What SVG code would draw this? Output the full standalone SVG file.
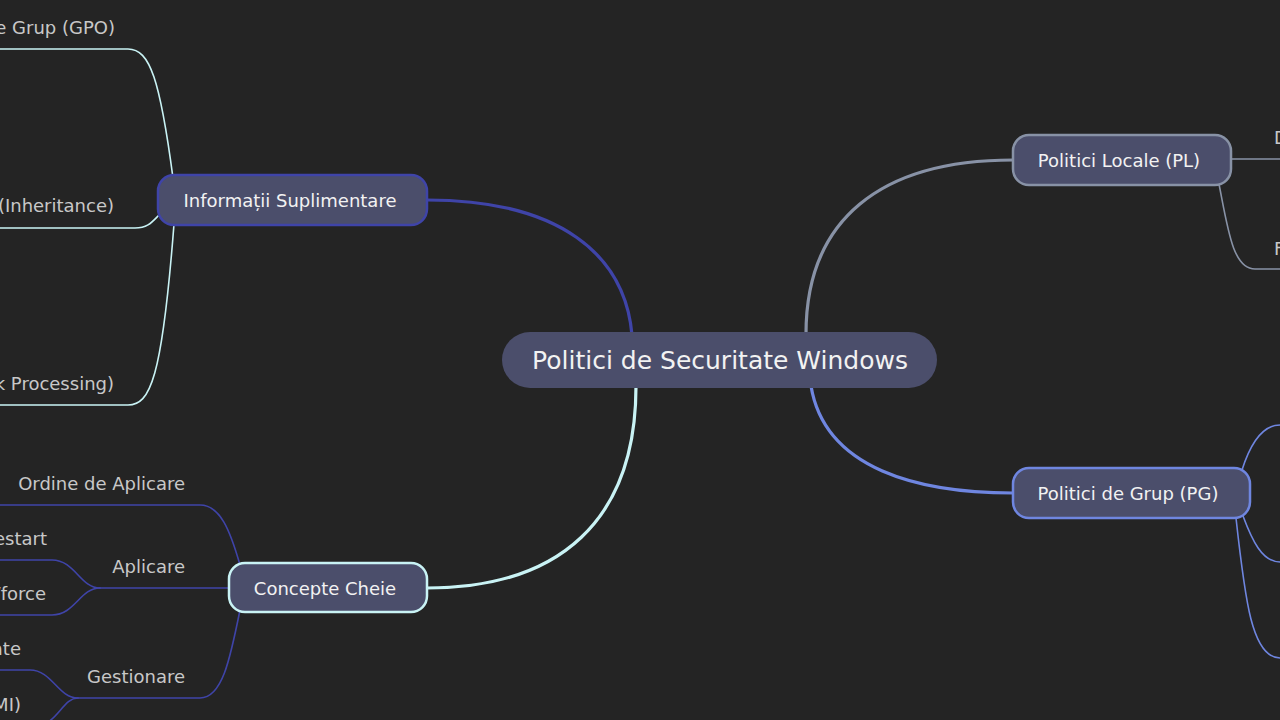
<svg xmlns="http://www.w3.org/2000/svg" width="1280" height="720" viewBox="0 0 1280 720">
<style>
.node rect{fill:#4b4e6b;stroke-width:2.5}
.node text{font-family:"DejaVu Sans",sans-serif;font-size:18px;fill:#f2f2f2;text-anchor:middle}
.lbl{font-family:"DejaVu Sans",sans-serif;font-size:18px;fill:#c8c8c8;text-anchor:end}
.lblr{font-family:"DejaVu Sans",sans-serif;font-size:18px;fill:#c8c8c8;text-anchor:start}
.conn path{fill:none;stroke-linecap:round}
.main{stroke-width:3.2}
.sub{stroke-width:1.6}
.c-blue{stroke:#3f44a8}
.c-cyan{stroke:#c9f3f5}
.c-grey{stroke:#8892a6}
.c-peri{stroke:#6f86e0}
</style>
<rect width="1280" height="720" fill="#242424"/>
<g id="connectors" class="conn">
<path class="main c-blue" d="M427,200 C560,200 625,255 632,335"/>
<path class="main c-cyan" d="M427,588 C560,588 636,520 636,386"/>
<path class="main c-grey" d="M806,334 C806,220 880,160 1013,160"/>
<path class="main c-peri" d="M811,386 C825,470 920,493 1013,493"/>
<path class="sub c-cyan" d="M-5,49 L128,49 C150,49 160,80 173,178"/>
<path class="sub c-cyan" d="M-5,228 L135,228 C148,228 152,222 160,214"/>
<path class="sub c-cyan" d="M-5,405 L128,405 C150,405 162,380 174,224"/>
<path class="sub c-blue" d="M-5,505 L200,505 C220,505 230,530 240,565"/>
<path class="sub c-blue" d="M229,588 L100,588"/>
<path class="sub c-blue" d="M100,588 C80,588 75,560 52,560 L-5,560"/>
<path class="sub c-blue" d="M100,588 C80,588 75,615 52,615 L-5,615"/>
<path class="sub c-blue" d="M240,610 C230,660 222,698 200,698 L78,698"/>
<path class="sub c-blue" d="M78,698 C58,698 52,670 30,670 L-5,670"/>
<path class="sub c-blue" d="M78,698 C62,698 58,725 35,726 L-5,726"/>
<path class="sub c-grey" d="M1231,159 L1290,159"/>
<path class="sub c-grey" d="M1219,184 C1228,230 1233,269 1255,269 L1290,269"/>
<path class="sub c-peri" d="M1242,470 C1250,445 1262,425 1280,425 L1290,425"/>
<path class="sub c-peri" d="M1243,516 C1252,540 1262,562 1280,562 L1290,562"/>
<path class="sub c-peri" d="M1236,518 C1245,600 1252,658 1280,658 L1290,658"/>
</g>
<g id="root" class="node">
<rect x="502" y="332" width="435" height="56" rx="28" style="stroke:none"/>
<text x="720" y="369" style="font-size:25px">Politici de Securitate Windows</text>
</g>
<g id="info" class="node">
<rect x="158" y="175" width="269" height="50" rx="16" stroke="#3f44a8"/>
<text x="290" y="207">Informații Suplimentare</text>
</g>
<g id="concepte" class="node">
<rect x="229" y="563" width="198" height="49" rx="16" stroke="#c9f3f5"/>
<text x="325" y="595">Concepte Cheie</text>
</g>
<g id="locale" class="node">
<rect x="1013" y="135" width="218" height="50" rx="16" stroke="#8892a6"/>
<text x="1119" y="167">Politici Locale (PL)</text>
</g>
<g id="grup" class="node">
<rect x="1013" y="468" width="237" height="50" rx="16" stroke="#6f86e0"/>
<text x="1128" y="500">Politici de Grup (PG)</text>
</g>
<g id="gpo"><text class="lbl" x="115" y="34">Obiecte de Politici de Grup (GPO)</text></g>
<g id="inherit"><text class="lbl" x="114" y="212">Moștenire (Inheritance)</text></g>
<g id="loopback"><text class="lbl" x="114" y="390">Procesare Loopback (Loopback Processing)</text></g>
<g id="ordine"><text class="lbl" x="185" y="490">Ordine de Aplicare</text></g>
<g id="aplicare"><text class="lbl" x="185" y="573">Aplicare</text></g>
<g id="restart"><text class="lbl" x="47" y="545">La Restart</text></g>
<g id="force"><text class="lbl" x="46" y="600">gpupdate /force</text></g>
<g id="gestionare"><text class="lbl" x="185" y="683">Gestionare</text></g>
<g id="avansate"><text class="lbl" x="21" y="655">Setări Avansate</text></g>
<g id="wmi"><text class="lbl" x="21" y="711">Filtrare (WMI)</text></g>
<g id="def"><text class="lblr" x="1274" y="144">Definiție</text></g>
<g id="func"><text class="lblr" x="1274" y="255">Funcționalitate</text></g>
</svg>
